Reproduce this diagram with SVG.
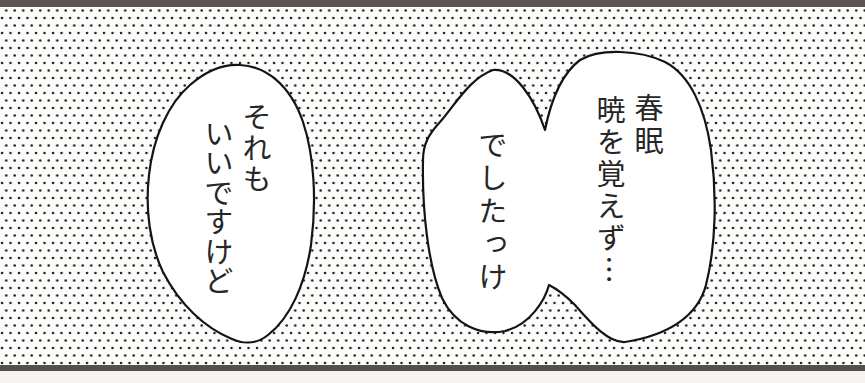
<svg xmlns="http://www.w3.org/2000/svg" width="865" height="383" viewBox="0 0 865 383">
  <defs>
    <pattern id="screen" x="0" y="0" width="8.5" height="15" patternUnits="userSpaceOnUse">
      <circle cx="2" cy="3" r="1.25" fill="#1a1a1a"/>
      <circle cx="6.25" cy="10.5" r="1.25" fill="#1a1a1a"/>
    </pattern>
  </defs>
  <style>
    .bubble { fill: #ffffff; stroke: #141414; stroke-width: 2.2; stroke-linejoin: round; }
    .vt { font-family: "Noto Sans CJK JP", "Noto Sans CJK SC", sans-serif; font-size: 29px; fill: #262626; writing-mode: vertical-rl; }
  </style>
  <rect x="0" y="0" width="865" height="383" fill="#f5f4f2"/>
  <rect x="0" y="7" width="865" height="358" fill="#fcfcfa"/>
  <rect x="0" y="7" width="865" height="358" fill="url(#screen)"/>
  <rect x="0" y="0" width="865" height="7" fill="#5a5551"/>
  <rect x="0" y="365" width="865" height="6" fill="#55504b"/>

  <g id="bubble-left">
    <path class="bubble" d="M240,65 C265,66 290,84 303,122 C314,155 317,200 311,245 C305,285 290,318 268,335 C258,343 245,345 232,339 C205,328 180,305 163,272 C150,245 145,210 149,175 C153,138 168,104 190,85 C205,72 222,64 240,65 Z"/>
    <text class="vt" x="257" y="102" style="letter-spacing:2px">それも</text>
    <text class="vt" x="219" y="119" style="letter-spacing:0.5px">いいですけど</text>
  </g>

  <g id="bubble-right">
    <path class="bubble" d="M545,130 C550,105 560,75 580,60 C600,48 640,50 665,62 C690,75 705,108 711,150 C717,195 716,245 706,285 C698,315 670,335 625,342 C608,343 590,322 575,305 C565,295 555,288 549,285 C545,300 530,325 505,331 C480,336 455,325 442,298 C428,265 422,210 423,160 C423,145 428,135 440,122 C455,105 470,78 493,70 C515,68 535,100 545,130 Z"/>
    <text class="vt" x="649" y="93" style="letter-spacing:4px">春眠</text>
    <text class="vt" x="611" y="95" style="letter-spacing:3px">暁を覚えず…</text>
    <text class="vt" x="493" y="130" style="letter-spacing:4px">でしたっけ</text>
  </g>
</svg>
